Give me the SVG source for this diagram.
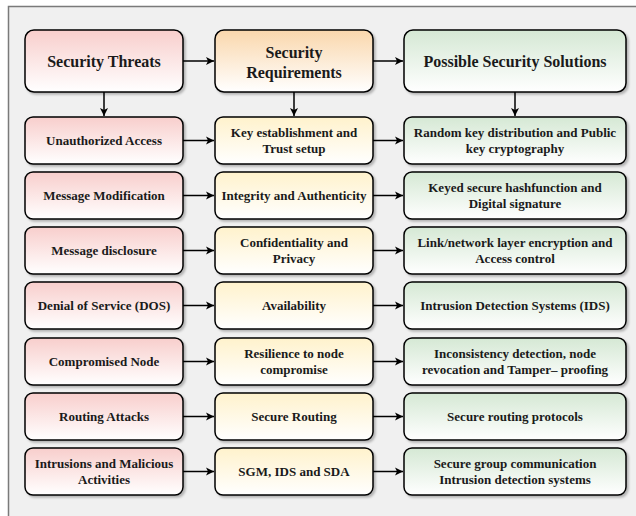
<svg xmlns="http://www.w3.org/2000/svg" width="636" height="516" viewBox="0 0 636 516">
<defs>
<linearGradient id="gr" x1="0" y1="0" x2="0" y2="1"><stop offset="0" stop-color="#f8cecc"/><stop offset="1" stop-color="#ffffff"/></linearGradient>
<linearGradient id="go" x1="0" y1="0" x2="0" y2="1"><stop offset="0" stop-color="#fad7ac"/><stop offset="1" stop-color="#ffffff"/></linearGradient>
<linearGradient id="gy" x1="0" y1="0" x2="0" y2="1"><stop offset="0" stop-color="#fff2cc"/><stop offset="1" stop-color="#ffffff"/></linearGradient>
<linearGradient id="gg" x1="0" y1="0" x2="0" y2="1"><stop offset="0" stop-color="#d5e8d4"/><stop offset="1" stop-color="#ffffff"/></linearGradient>
<filter id="sh" x="-10%" y="-10%" width="120%" height="130%"><feDropShadow dx="2" dy="2" stdDeviation="1.2" flood-color="#000" flood-opacity="0.25"/></filter>
<marker id="ah" markerWidth="10" markerHeight="10" refX="9" refY="5" orient="auto" markerUnits="userSpaceOnUse"><path d="M1,1 L9,5 L1,9 L3,5 Z" fill="#000"/></marker>
</defs>
<style>
.b{stroke:#000;stroke-width:1.5;filter:url(#sh)}
.r{fill:url(#gr)}.o{fill:url(#go)}.y{fill:url(#gy)}.g{fill:url(#gg)}
text{font-weight:bold;fill:#1a1a1a;text-anchor:middle}
.h{font-size:16px}.t{font-size:13px}
.c{stroke:#000;stroke-width:1.5;fill:none;marker-end:url(#ah)}
</style>
<rect x="8.5" y="6.5" width="640" height="520" fill="#f0f0f0" stroke="#7a7a7a" stroke-width="1.5"/>
<g font-family="Liberation Serif, Tinos, DejaVu Serif, serif">
<g id="h1"><rect class="b r" x="25" y="30" width="158" height="62" rx="9"/><text class="h" x="104" y="67">Security Threats</text></g>
<g id="h2"><rect class="b o" x="215" y="30" width="158" height="62" rx="9"/><text class="h" x="294" y="58">Security</text><text class="h" x="294" y="78">Requirements</text></g>
<g id="h3"><rect class="b g" x="404" y="30" width="222" height="62" rx="9"/><text class="h" x="515" y="67">Possible Security Solutions</text></g>

<g id="t1"><rect class="b r" x="25" y="117" width="158" height="47" rx="8"/><text class="t" x="104" y="145">Unauthorized Access</text></g>
<g id="r1"><rect class="b y" x="215" y="117" width="158" height="47" rx="8"/><text class="t" x="294" y="137">Key establishment and</text><text class="t" x="294" y="153">Trust setup</text></g>
<g id="s1"><rect class="b g" x="404" y="117" width="222" height="47" rx="8"/><text class="t" x="515" y="137">Random key distribution and Public</text><text class="t" x="515" y="153">key cryptography</text></g>

<g id="t2"><rect class="b r" x="25" y="172" width="158" height="47" rx="8"/><text class="t" x="104" y="200">Message Modification</text></g>
<g id="r2"><rect class="b y" x="215" y="172" width="158" height="47" rx="8"/><text class="t" x="294" y="200">Integrity and Authenticity</text></g>
<g id="s2"><rect class="b g" x="404" y="172" width="222" height="47" rx="8"/><text class="t" x="515" y="192">Keyed secure hashfunction and</text><text class="t" x="515" y="208">Digital signature</text></g>

<g id="t3"><rect class="b r" x="25" y="227" width="158" height="47" rx="8"/><text class="t" x="104" y="255">Message disclosure</text></g>
<g id="r3"><rect class="b y" x="215" y="227" width="158" height="47" rx="8"/><text class="t" x="294" y="247">Confidentiality and</text><text class="t" x="294" y="263">Privacy</text></g>
<g id="s3"><rect class="b g" x="404" y="227" width="222" height="47" rx="8"/><text class="t" x="515" y="247">Link/network layer encryption and</text><text class="t" x="515" y="263">Access control</text></g>

<g id="t4"><rect class="b r" x="25" y="282" width="158" height="47" rx="8"/><text class="t" x="104" y="310">Denial of Service (DOS)</text></g>
<g id="r4"><rect class="b y" x="215" y="282" width="158" height="47" rx="8"/><text class="t" x="294" y="310">Availability</text></g>
<g id="s4"><rect class="b g" x="404" y="282" width="222" height="47" rx="8"/><text class="t" x="515" y="310">Intrusion Detection Systems (IDS)</text></g>

<g id="t5"><rect class="b r" x="25" y="338" width="158" height="47" rx="8"/><text class="t" x="104" y="366">Compromised Node</text></g>
<g id="r5"><rect class="b y" x="215" y="338" width="158" height="47" rx="8"/><text class="t" x="294" y="358">Resilience to node</text><text class="t" x="294" y="374">compromise</text></g>
<g id="s5"><rect class="b g" x="404" y="338" width="222" height="47" rx="8"/><text class="t" x="515" y="358">Inconsistency detection, node</text><text class="t" x="515" y="374">revocation and Tamper– proofing</text></g>

<g id="t6"><rect class="b r" x="25" y="393" width="158" height="47" rx="8"/><text class="t" x="104" y="421">Routing Attacks</text></g>
<g id="r6"><rect class="b y" x="215" y="393" width="158" height="47" rx="8"/><text class="t" x="294" y="421">Secure Routing</text></g>
<g id="s6"><rect class="b g" x="404" y="393" width="222" height="47" rx="8"/><text class="t" x="515" y="421">Secure routing protocols</text></g>

<g id="t7"><rect class="b r" x="25" y="448" width="158" height="47" rx="8"/><text class="t" x="104" y="468">Intrusions and Malicious</text><text class="t" x="104" y="484">Activities</text></g>
<g id="r7"><rect class="b y" x="215" y="448" width="158" height="47" rx="8"/><text class="t" x="294" y="476">SGM, IDS and SDA</text></g>
<g id="s7"><rect class="b g" x="404" y="448" width="222" height="47" rx="8"/><text class="t" x="515" y="468">Secure group communication</text><text class="t" x="515" y="484">Intrusion detection systems</text></g>
</g>
<g id="connectors">
<path class="c" d="M183,61 H214"/>
<path class="c" d="M373,61 H403"/>
<path class="c" d="M104,92 V116"/>
<path class="c" d="M294,92 V116"/>
<path class="c" d="M515,92 V116"/>
<path class="c" d="M183,140.5 H214"/><path class="c" d="M373,140.5 H403"/>
<path class="c" d="M183,195.5 H214"/><path class="c" d="M373,195.5 H403"/>
<path class="c" d="M183,250.5 H214"/><path class="c" d="M373,250.5 H403"/>
<path class="c" d="M183,305.5 H214"/><path class="c" d="M373,305.5 H403"/>
<path class="c" d="M183,361.5 H214"/><path class="c" d="M373,361.5 H403"/>
<path class="c" d="M183,416.5 H214"/><path class="c" d="M373,416.5 H403"/>
<path class="c" d="M183,471.5 H214"/><path class="c" d="M373,471.5 H403"/>
</g>
</svg>
